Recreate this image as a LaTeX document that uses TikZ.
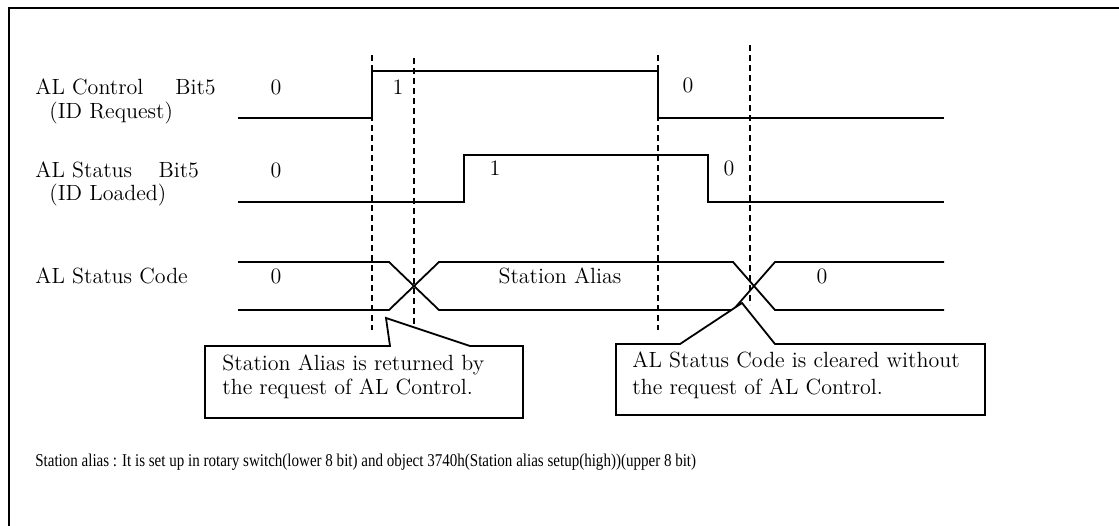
\documentclass[tikz,border=0pt]{standalone}
\usepackage{fontspec}
\newfontfamily\notefont{Liberation Serif}
\usetikzlibrary{positioning}

\tikzset{
  sig/.style={line width=0.9pt},
  guide/.style={line width=0.9pt, dash pattern=on 3pt off 2pt},
  lbl/.style={anchor=base west, inner sep=0pt, font=\fontsize{11}{13}\selectfont},
  val/.style={anchor=base, inner sep=0pt, font=\fontsize{11}{13}\selectfont},
  notebox/.style={draw, line width=0.9pt, fill=white},
}

\begin{document}
\begin{tikzpicture}[x=0.5pt,y=-0.5pt]
  \useasboundingbox (0,0) rectangle (1119,525);
  \clip (0,0) rectangle (1119,525);
  % outer frame, runs off the page on the right and at the bottom
  \draw[line width=1.4pt] (9,8) rectangle (1140,545);

  % signal names
  \node[lbl] (ctrl)  at (35,94)  {AL Control\hspace{1.45em}Bit5};
  \node[lbl] (ctrl2) at (49,118) {(ID\,\,Request)};
  \node[lbl] (stat)  at (35,177) {AL Status\hspace{1.2em}Bit5};
  \node[lbl] (stat2) at (49,200) {(ID\,\,Loaded)};
  \node[lbl] (code)  at (35,283) {AL Status Code};

  % time markers
  \draw[guide] (372,55) -- (372,330);
  \draw[guide] (414,58) -- (414,328);
  \draw[guide] (658,55) -- (658,330);
  \draw[guide] (750,45) -- (750,305);

  % AL Control Bit5
  \draw[sig] (238,118) -- (372,118) -- (372,71) -- (658,71) -- (658,118) -- (944,118);
  \node[val] (c0) at (276,94) {0};
  \node[val] (c1) at (398,94) {1};
  \node[val] (c2) at (688,92) {0};

  % AL Status Bit5
  \draw[sig] (238,202) -- (464,202) -- (464,155) -- (708,155) -- (708,202) -- (944,202);
  \node[val] (s0) at (276,177) {0};
  \node[val] (s1) at (495,175) {1};
  \node[val] (s2) at (729,175) {0};

  % AL Status Code
  \draw[sig] (238,262) -- (389,262) -- (439,310) -- (733,310) -- (775,262) -- (944,262);
  \draw[sig] (238,310) -- (389,310) -- (439,262) -- (733,262) -- (775,310) -- (944,310);
  \node[val] (a0) at (276,283) {0};
  \node[val] (a1) at (560,283) {Station Alias};
  \node[val] (a2) at (822,283) {0};

  % callouts
  \draw[notebox] (205,346) -- (390,346) -- (386,318) -- (470,346) -- (523,346)
    -- (523,418) -- (205,418) -- cycle;
  \node[lbl] (n1) at (222,370) {Station Alias is returned by};
  \node[lbl] (n1b) at (222,394) {the request of AL Control.};

  \draw[notebox] (616,344) -- (680,344) -- (742,303) -- (775,344) -- (985,344)
    -- (985,415) -- (616,415) -- cycle;
  \node[lbl] (n2) at (632,367) {AL Status Code is cleared without};
  \node[lbl] (n2b) at (632,394) {the request of AL Control.};

  % footnote
  \node[anchor=base west, inner sep=0pt, xscale=0.835,
    font=\notefont\fontsize{9}{11}\selectfont] (foot) at (35,466)
    {Station alias : It is set up in rotary switch(lower 8 bit) and object 3740h(Station alias setup(high))(upper 8 bit)};
\end{tikzpicture}
\end{document}
